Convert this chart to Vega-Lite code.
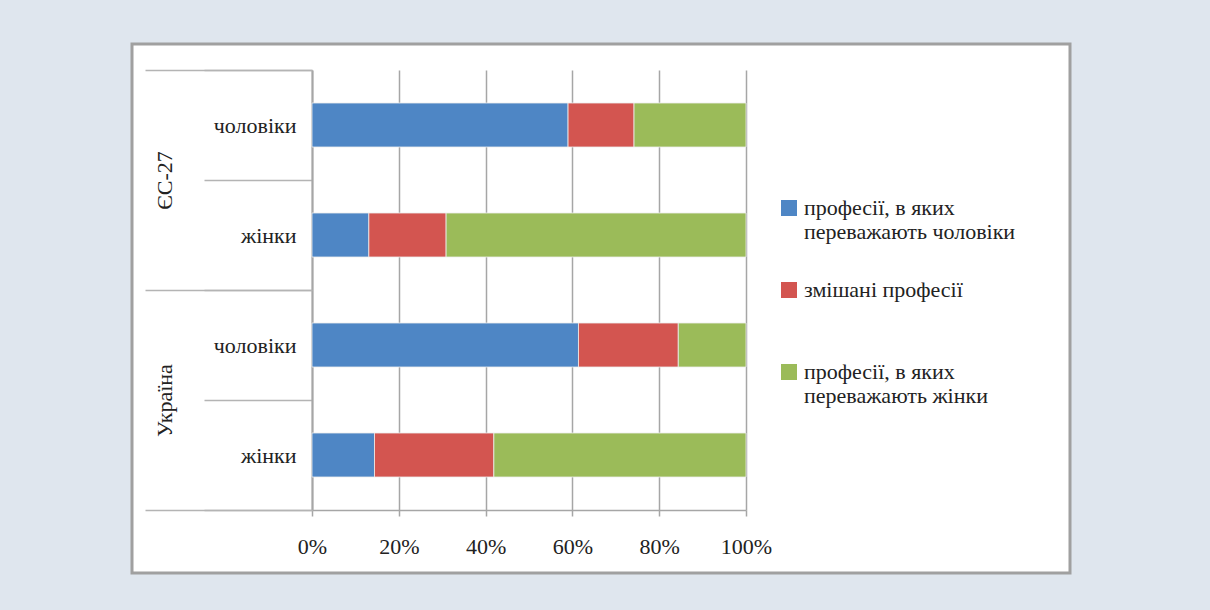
{
  "$schema": "https://vega.github.io/schema/vega-lite/v6.json",
  "width": 938,
  "height": 529,
  "autosize": {"type": "none"},
  "padding": {"left": 132, "top": 44, "right": 140, "bottom": 37},
  "background": "#dfe6ee",
  "config": {
    "view": {"fill": "#ffffff", "stroke": "#a0a0a0", "strokeWidth": 3},
    "font": "Liberation Serif",
    "axis": {"labelFont": "Liberation Serif", "labelFontSize": 22, "labelColor": "#222222"},
    "legend": {"labelFont": "Liberation Serif", "labelFontSize": 22, "labelColor": "#222222", "padding": 0}
  },
  "data": {
    "values": [
      {"group": "ЄС-27", "key": "ЄС-27|чоловіки", "cat": "професії, в яких переважають чоловіки", "k": 1, "value": 59.0},
      {"group": "ЄС-27", "key": "ЄС-27|чоловіки", "cat": "змішані професії", "k": 2, "value": 15.2},
      {"group": "ЄС-27", "key": "ЄС-27|чоловіки", "cat": "професії, в яких переважають жінки", "k": 3, "value": 25.8},
      {"group": "ЄС-27", "key": "ЄС-27|жінки", "cat": "професії, в яких переважають чоловіки", "k": 1, "value": 13.1},
      {"group": "ЄС-27", "key": "ЄС-27|жінки", "cat": "змішані професії", "k": 2, "value": 17.8},
      {"group": "ЄС-27", "key": "ЄС-27|жінки", "cat": "професії, в яких переважають жінки", "k": 3, "value": 69.1},
      {"group": "Україна", "key": "Україна|чоловіки", "cat": "професії, в яких переважають чоловіки", "k": 1, "value": 61.4},
      {"group": "Україна", "key": "Україна|чоловіки", "cat": "змішані професії", "k": 2, "value": 23.0},
      {"group": "Україна", "key": "Україна|чоловіки", "cat": "професії, в яких переважають жінки", "k": 3, "value": 15.6},
      {"group": "Україна", "key": "Україна|жінки", "cat": "професії, в яких переважають чоловіки", "k": 1, "value": 14.4},
      {"group": "Україна", "key": "Україна|жінки", "cat": "змішані професії", "k": 2, "value": 27.5},
      {"group": "Україна", "key": "Україна|жінки", "cat": "професії, в яких переважають жінки", "k": 3, "value": 58.1}
    ]
  },
  "layer": [
    {
      "mark": {"type": "bar", "height": {"band": 0.4}, "stroke": "#eeeeee", "strokeWidth": 0.8},
      "encoding": {
        "y": {
          "field": "key", "type": "nominal", "sort": null,
          "scale": {"range": [26, 466], "paddingInner": 0, "paddingOuter": 0},
          "axis": {
            "title": null, "orient": "left", "offset": -180,
            "tickBand": "extent", "tickSize": 108, "tickColor": "#b4b4b4", "tickWidth": 1.5,
            "domainColor": "#a6a6a6", "domainWidth": 2,
            "labelExpr": "split(datum.label, '|')[1]", "labelPadding": -92
          }
        },
        "x": {
          "field": "value", "type": "quantitative", "stack": "zero",
          "scale": {"domain": [0, 100], "range": [180, 614], "nice": false},
          "axis": {
            "title": null, "orient": "top", "offset": -466,
            "values": [0, 20, 40, 60, 80, 100], "labelExpr": "datum.value + '%'",
            "labelFlush": false, "labelBaseline": "top",
            "grid": true, "gridColor": "#a6a6a6", "gridWidth": 1.5,
            "tickSize": -6, "tickColor": "#a6a6a6", "tickWidth": 1.5,
            "domain": true, "domainColor": "#a6a6a6", "domainWidth": 1.5, "labelPadding": -20
          }
        },
        "color": {
          "field": "cat", "type": "nominal",
          "scale": {
            "domain": ["професії, в яких переважають чоловіки", "змішані професії", "професії, в яких переважають жінки"],
            "range": ["#4e86c5", "#d35550", "#9bbb59"]
          },
          "legend": {
            "title": null, "orient": "none", "legendX": 646, "legendY": 153,
            "symbolType": "square", "symbolSize": 256, "symbolStrokeWidth": 0,
            "rowPadding": 36, "labelBaseline": "middle", "labelLimit": 400, "labelOffset": 4,
            "labelExpr": "datum.label == 'змішані професії' ? [datum.label, ' '] : (indexof(datum.label, 'чоловіки') > 0 ? ['професії, в яких', 'переважають чоловіки'] : ['професії, в яких', 'переважають жінки'])"
          }
        },
        "order": {"field": "k"}
      }
    },
    {
      "mark": {"type": "point", "opacity": 0},
      "encoding": {
        "y": {
          "field": "group", "type": "nominal", "sort": null,
          "scale": {"range": [26, 466], "paddingInner": 0, "paddingOuter": 0},
          "axis": {
            "title": null, "orient": "left", "offset": -180,
            "tickBand": "extent", "tickSize": 167, "tickColor": "#b4b4b4", "tickWidth": 1.5,
            "domain": false, "labelAngle": -90, "labelAlign": "center", "labelBaseline": "bottom",
            "labelPadding": -31
          }
        }
      }
    }
  ],
  "resolve": {"scale": {"y": "independent"}, "axis": {"y": "independent"}}
}
